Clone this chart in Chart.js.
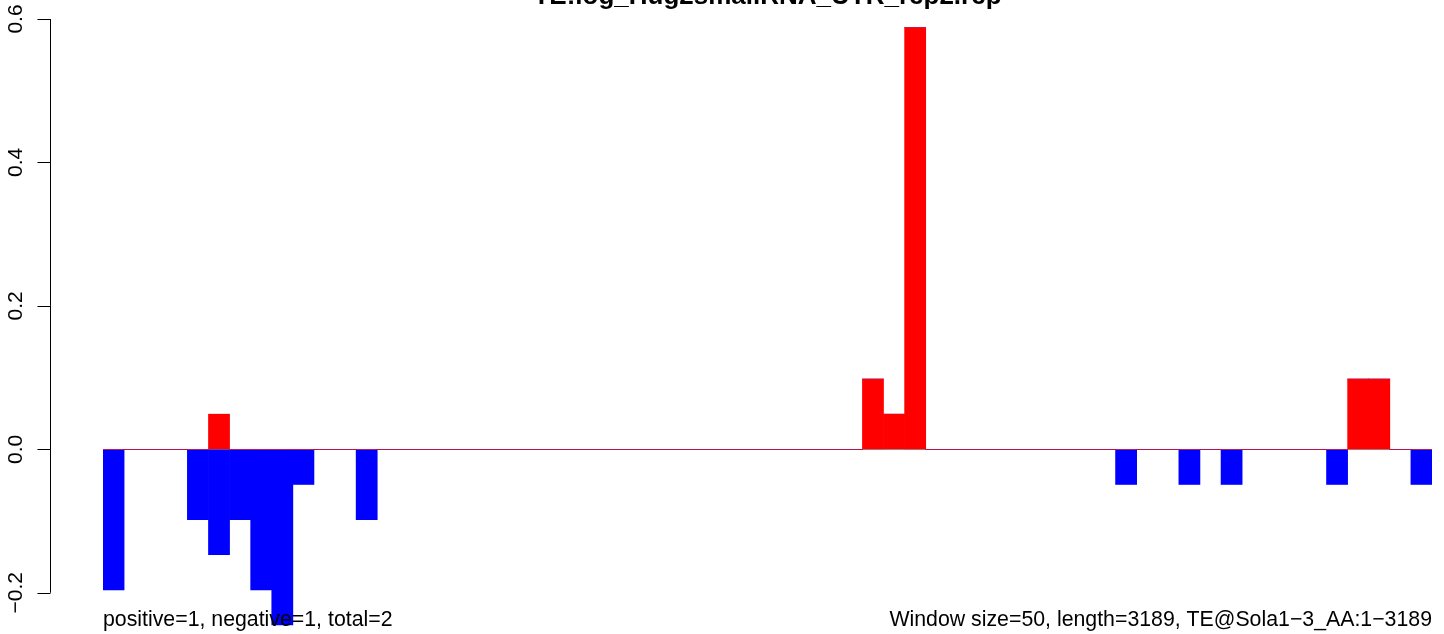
<!DOCTYPE html>
<html>
<head>
<meta charset="utf-8">
<script src="https://cdn.jsdelivr.net/npm/chart.js@4/dist/chart.umd.min.js"></script>
<style>
  html, body { margin: 0; padding: 0; background: #fff; }
  canvas { display: block; }
</style>
</head>
<body>
<canvas id="chart" width="1444" height="634"></canvas>
<script>
// one window = 50 nt, 63 windows along the 3189 nt element
const windows = Array.from({ length: 63 }, (_, i) => String(i + 1));

const positive = [
  0, 0, 0, 0, 0, 0.049, 0, 0, 0, 0,
  0, 0, 0, 0, 0, 0, 0, 0, 0, 0,
  0, 0, 0, 0, 0, 0, 0, 0, 0, 0,
  0, 0, 0, 0, 0, 0, 0.098, 0.049, 0.588, 0,
  0, 0, 0, 0, 0, 0, 0, 0, 0, 0,
  0, 0, 0, 0, 0, 0, 0, 0, 0, 0.098,
  0.098, 0, 0,
];

const negative = [
  -0.196, 0, 0, 0, -0.098, -0.147, -0.098, -0.196, -0.245, -0.049,
  0, 0, -0.098, 0, 0, 0, 0, 0, 0, 0,
  0, 0, 0, 0, 0, 0, 0, 0, 0, 0,
  0, 0, 0, 0, 0, 0, 0, 0, 0, 0,
  0, 0, 0, 0, 0, 0, 0, 0, -0.049, 0,
  0, -0.049, 0, -0.049, 0, 0, 0, 0, -0.049, 0,
  0, 0, -0.049,
];

const yTicks = [-0.2, 0.0, 0.2, 0.4, 0.6];

const titleText = 'TE:log_Hug2smallRNA_UTR_rep2.rep';
const leftNote = 'positive=1, negative=1, total=2';
const rightNote = 'Window size=50, length=3189, TE@Sola1\u22123_AA:1\u22123189';

const FONT = '"Liberation Sans", Arial, Helvetica, sans-serif';

// R-style axis, title and margin notes
const rDecor = {
  id: 'rDecor',
  afterDraw(chart) {
    const { ctx, chartArea } = chart;
    const y = chart.scales.y;
    const axisX = 50.5;
    ctx.save();
    ctx.strokeStyle = '#000';
    ctx.lineWidth = 1;
    ctx.beginPath();
    ctx.moveTo(axisX, y.getPixelForValue(yTicks[0]));
    ctx.lineTo(axisX, y.getPixelForValue(yTicks[yTicks.length - 1]));
    yTicks.forEach((t) => {
      const py = Math.round(y.getPixelForValue(t)) + 0.5;
      ctx.moveTo(axisX, py);
      ctx.lineTo(axisX - 13, py);
    });
    ctx.stroke();

    ctx.fillStyle = '#000';
    ctx.font = `21px ${FONT}`;
    ctx.textAlign = 'center';
    ctx.textBaseline = 'alphabetic';
    yTicks.forEach((t) => {
      const py = y.getPixelForValue(t);
      ctx.save();
      ctx.translate(22, py);
      ctx.rotate(-Math.PI / 2);
      ctx.fillText(t.toFixed(1).replace('-', '\u2212'), 0, 0);
      ctx.restore();
    });

    ctx.font = `21.3px ${FONT}`;
    ctx.textAlign = 'left';
    ctx.fillText(leftNote, chartArea.left, 626);
    ctx.textAlign = 'right';
    ctx.fillText(rightNote, chartArea.right, 626);

    ctx.font = `bold 26px ${FONT}`;
    ctx.textAlign = 'center';
    ctx.fillText(titleText, (chartArea.left + chartArea.right) / 2, 4);
    ctx.restore();
  },
};

const ctx = document.getElementById('chart').getContext('2d');
// eslint-disable-next-line no-unused-vars
const chart = new Chart(ctx, {
  type: 'bar',
  data: {
    labels: windows,
    datasets: [
      {
        label: 'positive',
        data: positive,
        backgroundColor: '#ff0000',
        borderWidth: 0,
        barPercentage: 1,
        categoryPercentage: 1,
      },
      {
        label: 'negative',
        data: negative,
        backgroundColor: '#0000ff',
        borderWidth: 0,
        barPercentage: 1,
        categoryPercentage: 1,
      },
    ],
  },
  options: {
    responsive: false,
    maintainAspectRatio: false,
    animation: false,
    layout: {
      padding: { left: 103, right: 12, top: 4, bottom: 0 },
    },
    plugins: {
      legend: { display: false },
      tooltip: { enabled: false },
      title: { display: false },
    },
    scales: {
      x: {
        display: false,
        stacked: true,
      },
      y: {
        stacked: true,
        min: -0.2575,
        max: 0.6209,
        afterFit(scale) { scale.width = 0; },
        afterBuildTicks(scale) { scale.ticks = yTicks.map((v) => ({ value: v })); },
        ticks: { display: false },
        border: { display: false },
        grid: {
          drawTicks: false,
          color: (c) => (c.tick && c.tick.value === 0 ? '#999999' : 'rgba(0,0,0,0)'),
          lineWidth: 1,
        },
      },
    },
  },
  plugins: [rDecor],
});
</script>
</body>
</html>
